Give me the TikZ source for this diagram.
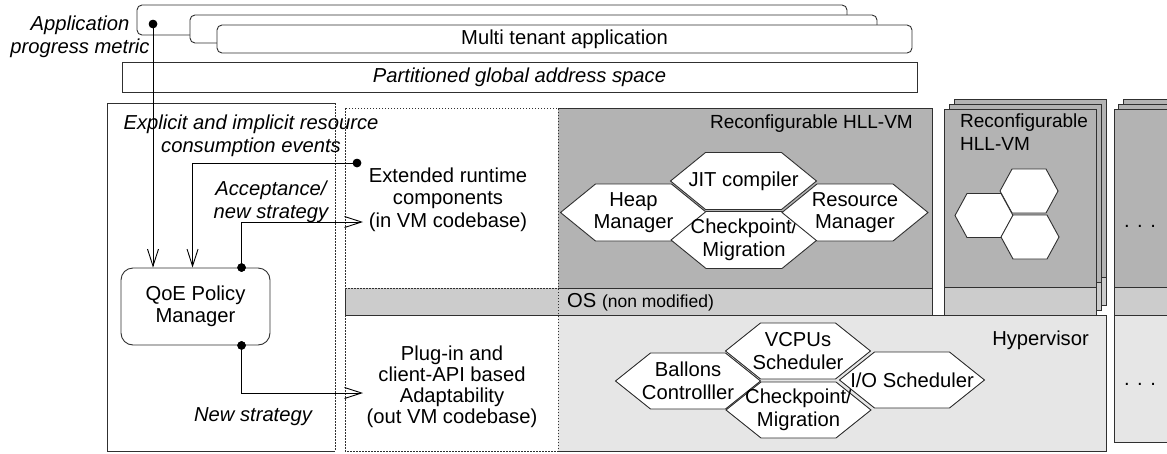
\documentclass[tikz,border=0pt]{standalone}
\usepackage{fontspec}
\setmainfont{Liberation Sans}
\usetikzlibrary{arrows.meta,calc}
\newcommand\fs{\fontsize{20.2}{22.5}\selectfont}
\newcommand\fsm{\fontsize{19}{22.5}\selectfont}
\newcommand\fss{\fontsize{17.5}{20}\selectfont}
\definecolor{vmgray}{HTML}{B3B3B3}
\definecolor{osgray}{HTML}{CCCCCC}
\definecolor{hvgray}{HTML}{E6E6E6}
\definecolor{edge}{HTML}{303030}
% name, cx, cy, w, h, d, text
\newcommand\hexbox[7]{%
  \path[hexshape] ({#2-#4/2},#3) -- ({#2-#4/2+#6},{#3-#5/2}) -- ({#2+#4/2-#6},{#3-#5/2})
     -- ({#2+#4/2},#3) -- ({#2+#4/2-#6},{#3+#5/2}) -- ({#2-#4/2+#6},{#3+#5/2}) -- cycle;
  \node[txt] (#1) at (#2,#3) {#7};}
% name, x1, ytop, x2
\newcommand\vmlayer[4]{%
  \fill[vmgray] (#2,#3) rectangle (#4,{#3+178});
  \fill[osgray] (#2,{#3+178}) rectangle (#4,{#3+206});
  \draw[solidline] (#2,#3) rectangle (#4,{#3+206});
  \draw[solidline] (#2,{#3+178}) -- (#4,{#3+178});
  \coordinate (#1) at (#2,#3);}
\tikzset{
  solidline/.style={draw=edge, line width=0.9pt},
  dotline/.style={draw=edge, line width=0.8pt, dash pattern=on 1.5pt off 1.5pt},
  conn/.style={draw=black, line width=0.9pt, -{Straight Barb[length=17pt,width=11pt,line width=0.9pt]}},
  blackdot/.style={circle, fill=black, inner sep=0pt, minimum size=8.5pt},
  appbox/.style={draw=edge, line width=0.9pt, fill=white, rounded corners=5pt},
  hexshape/.style={draw=edge, line width=0.9pt, fill=white},
  txt/.style={font=\fs, align=center, inner sep=0pt},
  itxt/.style={font=\fs\itshape, align=center, inner sep=0pt},
}
\begin{document}
\begin{tikzpicture}[x=1pt,y=-1pt]
\useasboundingbox (0,0) rectangle (1167,453);
\begin{scope}
\clip (0,0) rectangle (1167,453);
% ---- application stack ----
\path[appbox] (137,5) rectangle (847,35);
\path[appbox] (190,15) rectangle (877,43);
\path[appbox] (217,25) rectangle (912,53);
\node[txt] (app) at (564.5,39.5) {Multi tenant application};
\node[itxt] (applbl) at (80,37) {Application\\progress metric};
% ---- PGAS ----
\draw[solidline, fill=white] (122,62) rectangle (917,92);
\node[itxt] (pgas) at (519.5,77.5) {Partitioned global address space};
% ---- left box ----
\draw[solidline] (335,103) -- (107,103) -- (107,451) -- (335,451);
\draw[dotline] (335,103) -- (335,451);
% ---- HLL-VM ----
\fill[vmgray] (558,108) rectangle (932,288);
\draw[solidline] (558,108) -- (932,108) -- (932,288);
\node[txt, font=\fsm, anchor=east] (hllvm) at (913,124) {Reconfigurable HLL-VM};
% ---- OS bar ----
\fill[osgray] (345,288) rectangle (932,315);
\draw[solidline] (558,288) -- (932,288) -- (932,315) -- (345,315) -- (345,288);
\node[anchor=west, inner sep=0pt] (os) at (567,302) {\fs OS \fss(non modified)};
% ---- Hypervisor ----
\fill[hvgray] (558,315) rectangle (1106,451);
\draw[solidline] (558,315) -- (1106,315) -- (1106,451) -- (558,451);
\node[txt, anchor=east] (hyp) at (1089,340) {Hypervisor};
% ---- middle dotted box ----
\draw[dotline] (345,108) rectangle (558,451);
\draw[dotline] (345,288) -- (558,288);
\node[txt] (ext) at (448,199.5) {Extended runtime\\components\\(in VM codebase)};
\node[txt, font=\fontsize{20.2}{21}\selectfont] (plug) at (452,387) {Plug-in and\\client-API based\\Adaptability\\(out VM codebase)};
% ---- hexagons in HLL-VM ----
\hexbox{heap}{633.5}{212.5}{146}{57}{35}{Heap\\Manager}
\hexbox{jit}{743.5}{181}{146}{57}{35}{JIT compiler}
\hexbox{ckvm}{744}{240}{146}{57}{35}{Checkpoint/\\Migration}
\hexbox{res}{855}{212.5}{146}{57}{35}{Resource\\Manager}
% ---- hexagons in hypervisor ----
\hexbox{vcpu}{798}{351}{145}{56}{35}{VCPUs\\Scheduler}
\hexbox{ball}{688}{381}{145}{56}{35}{Ballons\\Controlller}
\hexbox{ckhv}{798.5}{410}{145}{56}{35}{Checkpoint/\\Migration}
\hexbox{io}{912}{380}{145}{56}{35}{I/O Scheduler}
% ---- second VM stack ----
\vmlayer{s2c}{954}{99}{1106}
\vmlayer{s2b}{949}{104}{1101}
\vmlayer{s2a}{944}{109}{1096}
\node[txt, font=\fsm, align=left, anchor=north west] (hllvm2) at (960,114) {Reconfigurable\\HLL-VM};
\hexbox{h1}{1029}{191}{58}{44}{12}{}
\hexbox{h2}{984}{215.5}{58}{44}{12}{}
\hexbox{h3}{1030}{237}{58}{44}{12}{}
% ---- third stack ----
\vmlayer{s3c}{1123}{99}{1200}
\vmlayer{s3b}{1118}{104}{1200}
\vmlayer{s3a}{1114}{109}{1200}
\fill[hvgray] (1114,315) rectangle (1200,442);
\draw[solidline] (1200,315) -- (1114,315) -- (1114,442) -- (1200,442);
\node[txt] (more1) at (1140,226) {. . .};
\node[txt] (more2) at (1140,384) {. . .};
\end{scope}
% ---- QoE and connectors ----
\node[draw=edge, line width=0.9pt, rounded corners=12pt, minimum width=149pt, minimum height=77pt, txt, fill=white] (qoe) at (195.5,306.5) {QoE Policy\\Manager};
\node[itxt] (expl) at (251,136) {Explicit and implicit resource\\consumption events};
\node[itxt] (acc) at (271,202) {Acceptance/\\new strategy};
\node[itxt] (news) at (253,417) {New strategy};
\node[blackdot] (d1) at (153,24) {};
\node[blackdot] (d2) at (357,163) {};
\node[blackdot] (d3) at ([xshift=121pt]qoe.north west) {};
\node[blackdot] (d4) at ([xshift=121pt]qoe.south west) {};
\coordinate (t3) at (363,222);
\coordinate (t4) at (363,393);
\draw[conn] (d1.center) -- (d1.center |- qoe.north);
\draw[conn] (d2.center) -| ([xshift=72pt]qoe.north west);
\draw[conn] (d3.center) |- (t3);
\draw[conn] (d4.center) |- (t4);
\node[blackdot] at (d1) {};
\node[blackdot] at (d2) {};
\node[blackdot] at (d3) {};
\node[blackdot] at (d4) {};
\end{tikzpicture}
\end{document}
